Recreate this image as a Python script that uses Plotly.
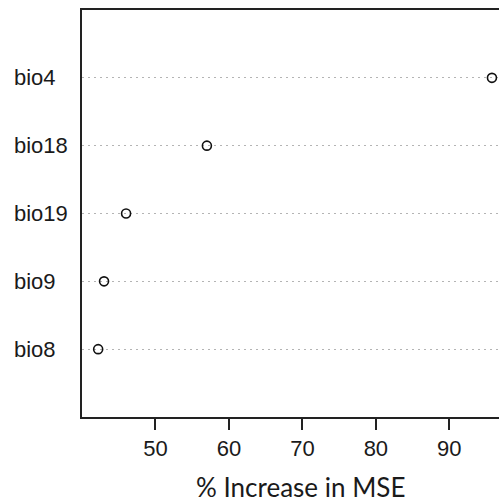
import plotly.graph_objects as go

variables = ["bio8", "bio9", "bio19", "bio18", "bio4"]
inc_mse = [42.2, 43.0, 46.0, 57.0, 95.8]
x_ticks = [50, 60, 70, 80, 90]
x_title = "% Increase in MSE"

LABEL_FONT = "Liberation Sans"

fig = go.Figure()
fig.add_trace(go.Scatter(
    x=inc_mse, y=variables, mode="markers",
    marker=dict(symbol="circle-open", size=9, color="#111111",
                line=dict(width=1.6, color="#111111")),
    showlegend=False, cliponaxis=False,
))

for v in variables:
    fig.add_annotation(x=-0.168, xref="paper", y=v, yref="y", text=v,
                       showarrow=False, xanchor="left", yanchor="middle",
                       font=dict(family=LABEL_FONT, size=22, color="#1a1a1a"))

fig.add_annotation(x=0.524, xref="paper", y=-0.171, yref="paper", text=x_title,
                   showarrow=False, xanchor="center", yanchor="middle",
                   font=dict(family="Lato", size=26, color="#1a1a1a"))

fig.update_layout(
    width=499, height=504,
    margin=dict(l=82, r=0, t=10, b=87),
    paper_bgcolor="white", plot_bgcolor="white",
    xaxis=dict(
        range=[40, 96.76], tickvals=x_ticks, ticks="outside", ticklen=11,
        tickwidth=1.5, tickcolor="#222", showline=True, linewidth=1.8,
        linecolor="#222", mirror=True, showgrid=False, zeroline=False,
        tickfont=dict(family=LABEL_FONT, size=22, color="#1a1a1a"),
    ),
    yaxis=dict(
        type="category", categoryorder="array", categoryarray=variables,
        range=[-1, 5], showticklabels=False, ticks="",
        showline=True, linewidth=1.8, linecolor="#222", mirror=False,
        showgrid=True, gridcolor="#b4b4b4", gridwidth=1, griddash="2px,4px",
        zeroline=False,
    ),
)

fig.write_html("out.html", config={"displayModeBar": False},
               post_script="document.body.style.margin='0';document.body.style.overflow='hidden';")
